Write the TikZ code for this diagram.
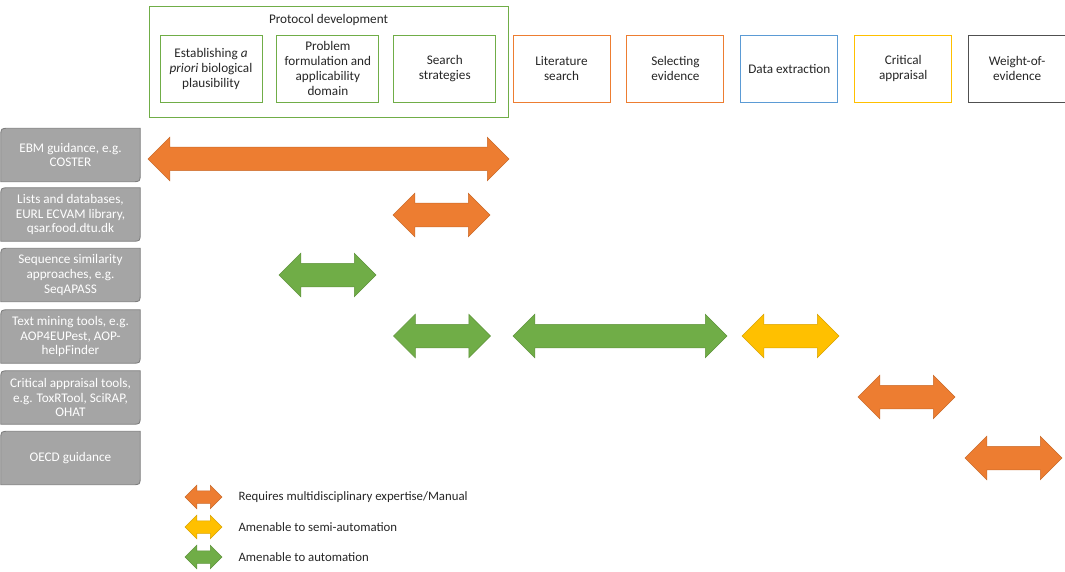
\documentclass[tikz,border=0pt]{standalone}
\usepackage{fontspec}
\setmainfont{Carlito}
\usetikzlibrary{
        arrows,
        backgrounds,
        calc,
        positioning,
        shapes.arrows
    }
\definecolor{mkorange}{HTML}{ED7D31}
\definecolor{mkyellow}{HTML}{FFC000}
\definecolor{mkgreen}{HTML}{70AD47}
\definecolor{mkblue}{HTML}{5B9BD5}
\definecolor{mkgray}{HTML}{A5A5A5}
\definecolor{mkdark}{HTML}{505050}
\tikzset{
    stage/.style={draw=#1, line width=0.9pt, minimum width=97pt, minimum height=67pt,
        align=center, text=black!85, font=\fontsize{13.2}{15}\selectfont},
    substage/.style={stage=mkgreen, minimum width=102pt},
    toolbox/.style={minimum width=139pt, minimum height=53pt, align=center,
        text=white, font=\fontsize{13.2}{14.8}\selectfont},
    toolshape/.style={fill=mkgray, draw=mkgray!75!black, line width=0.8pt},
    bigarrow/.style={double arrow, double arrow head extend=10pt, inner xsep=0pt,
        inner ysep=11.5pt, text height=0pt, text depth=0pt, minimum width=0pt,
        fill=#1, draw=#1!85!black, line width=0.5pt},
    legarrow/.style={bigarrow=#1, double arrow head extend=5.5pt, inner ysep=6pt},
    legtext/.style={font=\fontsize{12.8}{15}\selectfont, text=black!85, inner sep=0pt}
}

\begin{document}
\begin{tikzpicture}[x=1pt,y=-1pt]
    \useasboundingbox (0,0) rectangle (1065,572);
    % stages of the review
    \node[draw=mkgreen, line width=0.9pt, minimum width=359pt, minimum height=111pt] (protocol) at (328.5,61.5) {};
    \node[font=\fontsize{13.2}{15}\selectfont, text=black!85] (ptitle) at (328.5,20) {Protocol development};
    \node[substage] (apriori) at (211,68.5) {Establishing \textit{a}\\\textit{priori} biological\\plausibility};
    \node[substage] (problem) [right=14pt of apriori] {Problem\\formulation and\\applicability\\domain};
    \node[substage] (strategy) [right=14pt of problem] {Search\\strategies};
    \node[stage=mkorange] (litsearch) at (561.5,68.5) {Literature\\search};
    \node[stage=mkorange] (selecting) [right=16pt of litsearch] {Selecting\\evidence};
    \node[stage=mkblue] (extract) [right=16pt of selecting] {Data extraction};
    \node[stage=mkyellow] (appraise) [right=16pt of extract] {Critical\\appraisal};
    \node[stage=mkdark] (woe) [right=16pt of appraise] {Weight-of-\\evidence};

    % tools
    \node[toolbox] (ebm) at (70.5,155) {EBM guidance, e.g.\\COSTER};
    \node[toolbox] (lists) at (70.5,214.5) {Lists and databases,\\EURL ECVAM library,\\qsar.food.dtu.dk};
    \node[toolbox] (seq) at (70.5,275) {Sequence similarity\\approaches, e.g.\\SeqAPASS};
    \node[toolbox] (textmining) at (70.5,336.5) {Text mining tools, e.g.\\AOP4EUPest, AOP-\\helpFinder};
    \node[toolbox] (apptools) at (70.5,397.5) {Critical appraisal tools,\\e.g. ToxRTool, SciRAP,\\OHAT};
    \node[toolbox] (oecd) at (70.5,458) {OECD guidance};
    \begin{scope}[on background layer]
        \foreach \t in {ebm,lists,seq,textmining,apptools,oecd}
            \draw[toolshape] (\t.south west) -- ($(\t.north west)+(0,8)$)
                .. controls (\t.north west) .. ($(\t.north west)+(8,0)$)
                -- (\t.north east) -- ($(\t.south east)+(0,-8)$)
                .. controls (\t.south east) .. ($(\t.south east)+(-8,0)$) -- cycle;
    \end{scope}

    % coverage arrows
    \node[bigarrow=mkorange, minimum height=361pt] (ebmspan) at (328.5,159) {};
    \node[bigarrow=mkorange, minimum height=97pt] (listspan) at (441.5,215) {};
    \node[bigarrow=mkgreen, minimum height=97pt] (seqspan) at (327.5,275) {};
    \node[bigarrow=mkgreen, minimum height=97pt] (textspanA) at (442,336) {};
    \node[bigarrow=mkgreen, minimum height=214pt] (textspanB) at (620,336) {};
    \node[bigarrow=mkyellow, minimum height=97pt] (textspanC) at (790.5,336) {};
    \node[bigarrow=mkorange, minimum height=97pt] (appspan) at (906.5,397) {};
    \node[bigarrow=mkorange, minimum height=97pt] (oecdspan) at (1013.5,458) {};

    % legend
    \node[legarrow=mkorange, minimum height=37pt] (leg1) at (203.5,497) {};
    \node[legarrow=mkyellow, minimum height=37pt] (leg2) at (203.5,527) {};
    \node[legarrow=mkgreen, minimum height=37pt] (leg3) at (203.5,557) {};
    \node[legtext, anchor=west] (legtext1) [right=16pt of leg1] {Requires multidisciplinary expertise/Manual};
    \node[legtext, anchor=west] (legtext2) [right=16pt of leg2] {Amenable to semi-automation};
    \node[legtext, anchor=west] (legtext3) [right=16pt of leg3] {Amenable to automation};
\end{tikzpicture}
\end{document}
